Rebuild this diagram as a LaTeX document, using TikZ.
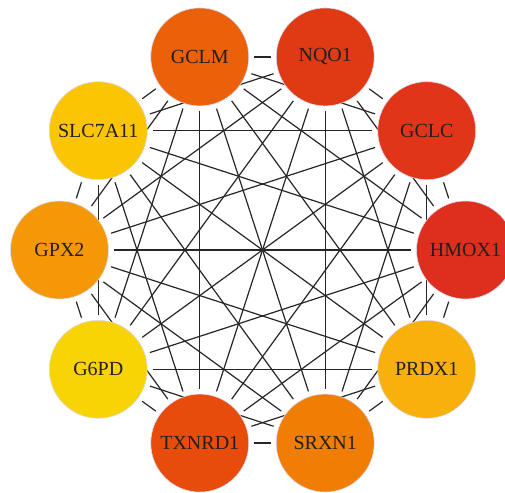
\documentclass[tikz,border=0pt]{standalone}
\usepackage{fontspec}
\setmainfont{Liberation Serif}
\usetikzlibrary{backgrounds}
\definecolor{cHMOX}{HTML}{DE2E1E}
\definecolor{cGCLC}{HTML}{E03519}
\definecolor{cNQO}{HTML}{E03A15}
\definecolor{cGCLM}{HTML}{EB6109}
\definecolor{cSLC}{HTML}{FBC504}
\definecolor{cGPX}{HTML}{F59808}
\definecolor{cGPD}{HTML}{F8D404}
\definecolor{cTXN}{HTML}{E84C0A}
\definecolor{cSRX}{HTML}{F07D04}
\definecolor{cPRD}{HTML}{F8B00A}
\definecolor{rimcol}{HTML}{DCDCF0}
\definecolor{genetext}{HTML}{231F20}
\begin{document}
\begin{tikzpicture}[x=1pt, y=1pt, line join=round, line cap=round, declare function={r=203;},
	gene/.style={circle, minimum size=98pt, inner sep=0pt, draw=rimcol, line width=0.6pt, text=genetext, font=\fontsize{20}{24}\selectfont},
	link/.style={line width=1.2pt, black!85, shorten <=5pt, shorten >=5pt}]
	\useasboundingbox (-262.5,-242) rectangle (242.5,250);
	\foreach \i/\t/\c in {0/HMOX1/cHMOX,1/GCLC/cGCLC,2/NQO1/cNQO,3/GCLM/cGCLM,4/SLC7A11/cSLC,5/GPX2/cGPX,6/G6PD/cGPD,7/TXNRD1/cTXN,8/SRXN1/cSRX,9/PRDX1/cPRD}
	\node[gene, fill=\c] (n\i) at (36*\i:r) {\t};
	\begin{scope}[on background layer]
		\foreach \i in {0,...,8}{
			\pgfmathtruncatemacro\k{\i+1}
			\foreach \j in {\k,...,9}
			\draw[link] (n\i)--(n\j);
		}
	\end{scope}
\end{tikzpicture}
\end{document}
